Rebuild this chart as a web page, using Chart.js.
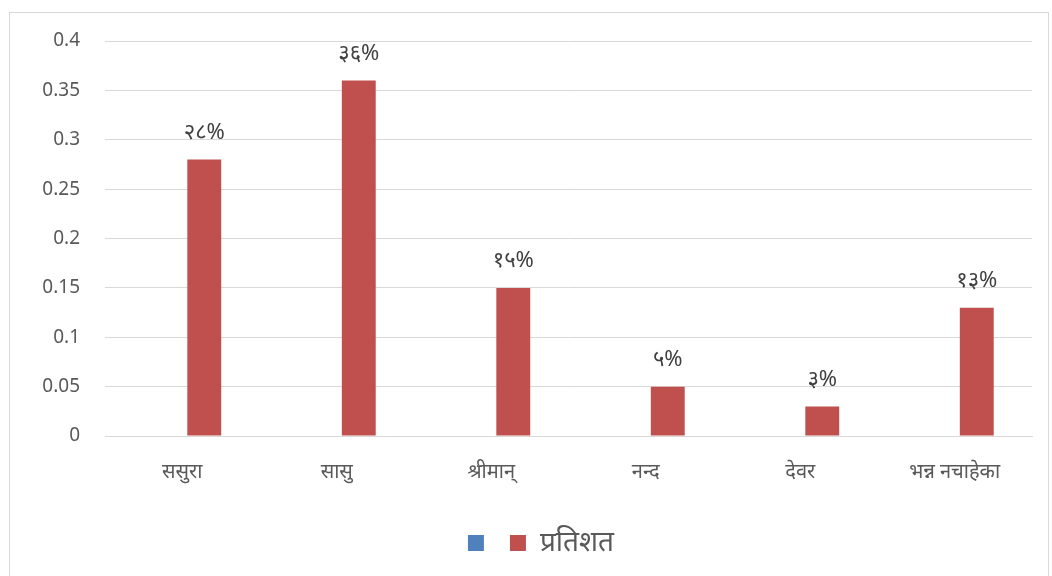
<!DOCTYPE html>
<html>
<head>
<meta charset="utf-8">
<script src="https://cdn.jsdelivr.net/npm/chart.js@4"></script>
<style>
  body { margin: 0; background: #fff; }
  #wrap { position: relative; width: 1052px; height: 576px; }
  #frame { position: absolute; left: 9px; top: 12px; width: 1040px; height: 600px; border: 1px solid #d9d9d9; box-sizing: border-box; }
  canvas { position: absolute; left: 0; top: 0; }
</style>
</head>
<body>
<div id="wrap">
  <div id="frame"></div>
  <canvas id="chart" width="1052" height="576"></canvas>
</div>
<script>
// categories and values
const categories = ['ससुरा', 'सासु', 'श्रीमान्', 'नन्द', 'देवर', 'भन्न नचाहेका'];
const blankSeries = [0, 0, 0, 0, 0, 0];
const percentSeries = [0.28, 0.36, 0.15, 0.05, 0.03, 0.13];
const valueLabels = ['२८%', '३६%', '१५%', '५%', '३%', '१३%'];
const yTicks = [0, 0.05, 0.1, 0.15, 0.2, 0.25, 0.3, 0.35, 0.4];

const fontFamily = "'Noto Sans', 'Liberation Sans', sans-serif";

// draws the text above each red bar
const barLabels = {
    id: 'barLabels',
    afterDatasetsDraw(chart) {
        const ctx = chart.ctx;
        const meta = chart.getDatasetMeta(1);
        ctx.save();
        ctx.font = '22px ' + fontFamily;
        ctx.fillStyle = '#404040';
        ctx.textAlign = 'center';
        ctx.textBaseline = 'bottom';
        meta.data.forEach((bar, i) => {
            ctx.fillText(valueLabels[i], bar.x, bar.y - 16);
        });
        ctx.restore();
    }
};

// legend sits a bit right of the canvas centre in the original
const legendShift = {
    id: 'legendShift',
    afterLayout(chart) {
        chart.legend.left += 25;
        chart.legend.right += 25;
    }
};

new Chart(document.getElementById('chart'), {
    type: 'bar',
    data: {
        labels: categories,
        datasets: [
            {
                label: '',
                data: blankSeries,
                backgroundColor: '#4F81BD',
                borderColor: '#4F81BD',
            },
            {
                label: 'प्रतिशत',
                data: percentSeries,
                backgroundColor: '#C0504D',
                borderColor: '#C0504D',
            },
        ],
    },
    options: {
        responsive: false,
        animation: false,
        categoryPercentage: 0.57,
        barPercentage: 0.77,
        layout: {
            padding: { top: 41, right: 20, bottom: 9, left: 0 },
        },
        plugins: {
            legend: {
                position: 'bottom',
                labels: {
                    boxWidth: 16,
                    boxHeight: 16,
                    padding: 12,
                    color: '#595959',
                    font: { size: 28, family: fontFamily },
                },
            },
            tooltip: { enabled: false },
        },
        scales: {
            x: {
                afterFit(scale) { scale.height += 17; },
                grid: { display: false },
                border: { display: true, color: '#d9d9d9' },
                ticks: {
                    padding: 16,
                    color: '#595959',
                    font: { size: 20, family: fontFamily },
                },
            },
            y: {
                min: 0,
                max: 0.4,
                afterFit(scale) { scale.width = 105; },
                afterBuildTicks(scale) { scale.ticks = yTicks.map(v => ({ value: v })); },
                grid: { color: '#d9d9d9', drawTicks: false },
                border: { display: false },
                ticks: {
                    padding: 25,
                    color: '#595959',
                    font: { size: 19, family: fontFamily },
                    callback: (v) => String(v),
                },
            },
        },
    },
    plugins: [barLabels, legendShift],
});
</script>
</body>
</html>
